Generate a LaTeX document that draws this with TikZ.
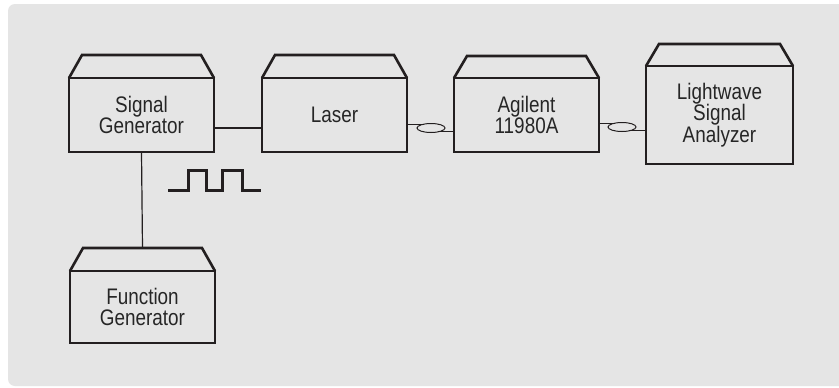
\documentclass[tikz,border=0pt]{standalone}
\usepackage{fontspec}
\setmainfont{Liberation Sans}[FakeStretch=0.84]
\usetikzlibrary{calc}
\definecolor{bg}{HTML}{E5E5E5}
\definecolor{ink}{HTML}{231F20}
\definecolor{txt}{HTML}{262626}
\tikzset{
  instr/.style={draw=ink, line width=2.6pt, line join=miter, outer sep=0pt, inner sep=0pt,
    align=center, text=txt, font=\fontsize{22.5}{21.5}\selectfont},
  lidline/.style={draw=ink, line width=2.6pt, line join=miter},
  wire/.style={draw=ink, line width=1.2pt},
  fiber/.style={draw=ink, line width=1pt},
  pulse/.style={draw=ink, line width=3pt, line join=miter}
}
\newcommand\drawlid[2]{\draw[lidline] (#1.north west) -- ++(13pt,#2) -- ([shift={(-13pt,#2)}]#1.north east) -- (#1.north east);}
\begin{document}
\begin{tikzpicture}[x=1pt,y=-1pt]
\useasboundingbox (0,0) rectangle (839,388);
\fill[white] (0,0) rectangle (839,388);
\fill[bg, rounded corners=7pt] (8,4) rectangle (850,386);

\node[instr, minimum width=145pt, minimum height=74pt] (sg) at (141.5,115) {Signal\\Generator};
\node[instr, minimum width=145pt, minimum height=74pt] (laser) at (334.5,115) {Laser};
\node[instr, minimum width=145pt, minimum height=74pt] (ag) at (526.5,115) {Agilent\\11980A};
\node[instr, minimum width=147pt, minimum height=98pt] (lw) at (719.5,115) {Lightwave\\Signal\\Analyzer};
\node[instr, minimum width=145pt, minimum height=72pt] (fg) at (142.5,307) {Function\\Generator};

\drawlid{sg}{23pt}
\drawlid{laser}{23pt}
\drawlid{ag}{22pt}
\drawlid{lw}{22pt}
\drawlid{fg}{23pt}

% electrical wires
\draw[wire] ([yshift=-13pt]sg.east) -- ([yshift=-13pt]laser.west);
\draw[wire] (sg.south) -- ([yshift=23pt]fg.north);

% fiber loops
\coordinate (l1) at (431,128);
\coordinate (l1a) at ($(l1)+(120:14pt and 4.5pt)$);
\coordinate (l1b) at ($(l1)+(-60:14pt and 4.5pt)$);
\draw[fiber] (l1) ellipse [x radius=14pt, y radius=4.5pt];
\draw[fiber] (laser.east |- l1a) -- (l1a);
\draw[fiber] (l1b) -- (l1b -| ag.west);

\coordinate (l2) at (622,127);
\coordinate (l2a) at ($(l2)+(120:14pt and 4.5pt)$);
\coordinate (l2b) at ($(l2)+(-60:14pt and 4.5pt)$);
\draw[fiber] (l2) ellipse [x radius=14pt, y radius=4.5pt];
\draw[fiber] (ag.east |- l2a) -- (l2a);
\draw[fiber] (l2b) -- (l2b -| lw.west);

% pulse train
\draw[pulse] (168,190) -- (188,190) -- (188,170) -- (206,170) -- (206,190) -- (222,190) -- (222,170) -- (242,170) -- (242,190) -- (261,190);
\end{tikzpicture}
\end{document}
